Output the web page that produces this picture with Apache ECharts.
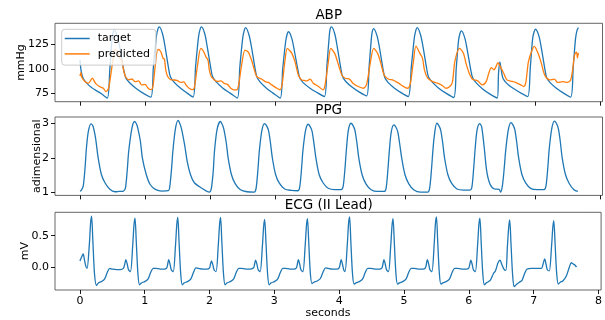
<!DOCTYPE html>
<html><head><meta charset="utf-8">
<script src="https://cdn.jsdelivr.net/npm/echarts@6/dist/echarts.min.js"></script>
<style>html,body{margin:0;padding:0;background:#fff}#c{width:605px;height:320px}</style>
</head><body><div id="c"></div>
<script>
const xTicks=[0,1,2,3,4,5,6,7,8];
const abpTicks=[75,100,125];
const ppgTicks=[1,2,3];
const ecgTicks=[0,0.5];
const ecgTickLabels=['0.0','0.5'];
const titles=['ABP','PPG','ECG (II Lead)'];
const yNames=['mmHg','adimensional','mV'];
const seriesNames=['target','predicted'];

const abpTarget=[[0,109],[0.02,97],[0.05,90],[0.13,83.5],[0.23,78.4],[0.33,74.3],[0.42,69.9],
[0.46,100],[0.49,128],[0.51,137],[0.53,140],[0.57,134],[0.62,120],[0.67,100],[0.71,90],[0.76,86],[0.86,80],[0.97,75],[1.09,70.9],
[1.13,102],[1.175,133],[1.2,141],[1.22,143],[1.27,136],[1.31,122.6],[1.36,102],[1.39,92],[1.44,86.8],[1.54,80.5],[1.64,75.5],[1.74,71],
[1.78,103],[1.825,133],[1.85,141],[1.87,143],[1.92,136],[1.96,122],[2.01,102],[2.04,92],[2.09,87],[2.2,80],[2.31,75],[2.42,69.9],
[2.46,102],[2.505,132],[2.53,140],[2.55,142.3],[2.6,135],[2.64,122],[2.69,102],[2.72,92],[2.77,86.5],[2.87,80],[2.97,75],[3.08,69.9],
[3.12,100],[3.165,128],[3.19,136],[3.21,138],[3.26,131],[3.3,118],[3.35,100],[3.38,91],[3.43,86],[3.54,80],[3.65,75.5],[3.76,71.5],
[3.8,103],[3.835,133],[3.85,141],[3.87,143],[3.92,136],[3.96,122],[4.01,102],[4.04,92],[4.09,87],[4.19,81],[4.3,76],[4.41,72.2],
[4.45,103],[4.485,132],[4.5,139],[4.52,141.3],[4.57,134],[4.61,121],[4.66,101],[4.69,91],[4.74,86],[4.84,80],[4.94,75.5],[5.05,71.5],
[5.1,103],[5.145,132],[5.17,140],[5.19,142.3],[5.24,135],[5.28,122],[5.33,102],[5.36,92],[5.41,87],[5.52,80],[5.63,75],[5.75,70.5],
[5.79,101],[5.825,129],[5.85,137],[5.87,139],[5.92,132],[5.96,119],[6.01,100],[6.04,91],[6.09,86],[6.2,79],[6.31,74],[6.42,70],
[6.44,95],[6.46,107],[6.48,100],[6.51,90],[6.6,83],[6.7,78.5],[6.8,74.5],[6.89,71.5],
[6.93,102],[6.965,131],[6.99,138.5],[7.01,140.6],[7.06,134],[7.1,121],[7.15,101],[7.18,91],[7.23,86],[7.33,80],[7.44,75],[7.55,70.9],
[7.59,102],[7.625,131],[7.65,140],[7.67,142.3]];

const abpPred=[[0,92.6],[0.015,96],[0.03,91],[0.08,86.8],[0.13,85.2],[0.19,90.3],[0.24,85],[0.3,81.8],[0.36,80],[0.4,76.6],[0.44,80],[0.5,105.6],[0.54,120],
[0.58,117],[0.61,111],[0.64,109],[0.67,99],[0.7,92],[0.75,88.6],[0.8,89.5],[0.85,86.8],[0.9,87.5],[0.95,83.5],[1.0,84],[1.05,80],[1.09,78.5],[1.12,81],[1.16,104],[1.2,120],
[1.24,118],[1.28,110.7],[1.3,110],[1.32,98.8],[1.35,92],[1.4,88.6],[1.45,88.5],[1.5,87.9],[1.55,86],[1.6,86.5],[1.63,83.5],[1.68,80],[1.73,78.5],[1.76,81],[1.81,104],[1.86,120.9],
[1.9,118],[1.94,112],[1.97,109],[1.99,99],[2.02,92],[2.07,88.5],[2.12,87],[2.17,87.5],[2.22,85],[2.27,84],[2.32,80],[2.37,78.4],[2.41,78.4],[2.44,83],[2.49,105],[2.54,119.2],
[2.59,117],[2.64,109],[2.67,102],[2.72,92],[2.8,89.3],[2.85,86.8],[2.9,86],[2.95,83.5],[3.03,80],[3.08,78.4],[3.11,84],[3.15,106],[3.19,120.9],
[3.23,118.5],[3.26,115.8],[3.31,107],[3.36,93.7],[3.41,88.6],[3.45,88],[3.49,87.6],[3.54,89.3],[3.59,85.2],[3.67,81.8],[3.74,78.4],[3.77,83],[3.82,106],[3.86,120.9],
[3.92,115.8],[3.97,105.6],[4.03,93.7],[4.08,90.3],[4.15,89.3],[4.2,85.2],[4.28,81.8],[4.36,80],[4.41,84],[4.47,107],[4.52,120.9],
[4.58,115.8],[4.63,105.6],[4.68,93.7],[4.75,89.3],[4.81,88.6],[4.86,86.8],[4.91,85],[4.96,82.6],[5.04,80],[5.08,84],[5.13,107],[5.17,123.3],
[5.23,115.8],[5.27,111],[5.3,98.8],[5.35,90.3],[5.43,86.8],[5.5,85.2],[5.58,82.6],[5.63,80],[5.69,81.8],[5.73,86],[5.77,108],[5.84,120.9],
[5.9,116],[5.94,105.6],[5.99,95.4],[6.04,89.3],[6.12,87.6],[6.19,83.5],[6.25,86.8],[6.29,95.4],[6.33,101.1],[6.37,99],[6.4,102],[6.43,106.3],[6.47,102],[6.52,95.4],[6.57,88.6],[6.65,87],[6.7,86],[6.78,83.5],[6.83,81.8],[6.86,86],[6.9,107.2],[6.95,118],
[6.99,123],[7.05,115.8],[7.1,105.6],[7.15,93.7],[7.23,88.6],[7.3,89.3],[7.35,86],[7.43,86.8],[7.5,86],[7.55,88.6],[7.58,98.8],[7.61,114],[7.64,117.2],[7.655,111],[7.665,116],[7.67,114]];

const ppg=[[0,1.04],[0.02,1.06],[0.05,1.18],[0.08,1.75],[0.1,2.29],[0.13,2.77],[0.17,2.98],[0.2,2.92],[0.24,2.57],[0.28,2.0],[0.33,1.52],[0.385,1.28],[0.46,1.09],[0.54,1.02],[0.6,1.03],[0.67,1.04],
[0.7,1.13],[0.73,1.7],[0.75,2.19],[0.8,2.86],[0.84,3.05],[0.87,2.98],[0.89,2.86],[0.93,2.48],[0.96,2.0],[1.02,1.52],[1.08,1.23],[1.16,1.09],[1.26,1.04],[1.36,1.05],
[1.38,1.14],[1.41,1.7],[1.43,2.2],[1.47,2.85],[1.51,3.08],[1.53,3.02],[1.56,2.86],[1.61,2.38],[1.65,1.9],[1.7,1.52],[1.76,1.28],[1.87,1.13],[1.99,1.01],
[2.02,1.1],[2.05,1.6],[2.07,2.19],[2.11,2.82],[2.16,3.05],[2.18,3.0],[2.21,2.86],[2.25,2.45],[2.28,2.0],[2.33,1.52],[2.39,1.25],[2.47,1.08],[2.57,1.02],[2.68,1.01],
[2.71,1.12],[2.74,1.7],[2.76,2.2],[2.8,2.8],[2.84,2.99],[2.87,2.93],[2.9,2.8],[2.93,2.45],[2.96,2.0],[3.01,1.52],[3.07,1.26],[3.15,1.1],[3.25,1.06],[3.35,1.05],
[3.38,1.14],[3.41,1.7],[3.43,2.2],[3.47,2.78],[3.51,2.97],[3.54,2.91],[3.57,2.78],[3.6,2.42],[3.63,2.0],[3.68,1.52],[3.74,1.28],[3.82,1.12],[3.92,1.08],[4.02,1.08],
[4.05,1.18],[4.08,1.75],[4.1,2.25],[4.13,2.8],[4.17,3.0],[4.2,2.94],[4.23,2.8],[4.26,2.45],[4.29,2.0],[4.34,1.52],[4.4,1.25],[4.48,1.08],[4.58,1.03],[4.68,1.03],
[4.71,1.12],[4.74,1.7],[4.76,2.2],[4.79,2.75],[4.83,2.95],[4.86,2.89],[4.89,2.75],[4.92,2.4],[4.95,2.0],[5.0,1.52],[5.06,1.25],[5.14,1.07],[5.24,1.01],[5.35,1.01],
[5.38,1.12],[5.41,1.7],[5.43,2.2],[5.45,2.6],[5.49,3.0],[5.52,2.94],[5.55,2.8],[5.58,2.45],[5.61,2.0],[5.66,1.52],[5.72,1.26],[5.8,1.1],[5.9,1.07],[6.0,1.07],
[6.03,1.15],[6.06,1.75],[6.08,2.25],[6.11,2.8],[6.15,2.99],[6.18,2.9],[6.22,2.3],[6.26,1.6],[6.31,1.24],[6.38,1.1],[6.45,1.09],[6.47,1.01],
[6.5,1.2],[6.53,1.75],[6.55,2.2],[6.59,2.8],[6.63,3.02],[6.66,2.96],[6.69,2.82],[6.72,2.45],[6.75,2.0],[6.8,1.52],[6.86,1.27],[6.94,1.11],[7.04,1.08],[7.14,1.08],
[7.17,1.18],[7.2,1.75],[7.22,2.25],[7.26,2.85],[7.3,3.06],[7.33,3.0],[7.36,2.85],[7.39,2.48],[7.42,2.0],[7.47,1.52],[7.53,1.25],[7.6,1.08],[7.66,1.03]];

const ecg=[[0,0.1],[0.03,0.17],[0.05,0.21],[0.07,0.12],[0.09,0.02],[0.11,-0.02],[0.145,0.35],[0.165,0.7],[0.18,0.81],[0.2,0.42],[0.225,-0.1],[0.255,-0.29],[0.285,-0.25],[0.33,-0.23],[0.38,-0.19],[0.42,-0.09],[0.46,-0.02],[0.5,-0.03],[0.56,-0.04],[0.62,-0.04],[0.67,-0.02],[0.69,0.04],[0.71,0.12],[0.73,0.05],[0.75,-0.04],[0.78,-0.07],
[0.815,0.35],[0.835,0.68],[0.85,0.78],[0.87,0.4],[0.895,-0.1],[0.92,-0.28],[0.95,-0.25],[1.0,-0.23],[1.05,-0.19],[1.09,-0.09],[1.13,-0.02],[1.17,-0.02],[1.24,-0.03],[1.3,-0.03],[1.34,-0.01],[1.355,0.05],[1.37,0.12],[1.39,0.05],[1.41,-0.04],[1.44,-0.07],
[1.475,0.35],[1.495,0.68],[1.51,0.79],[1.53,0.4],[1.555,-0.1],[1.58,-0.28],[1.61,-0.25],[1.66,-0.23],[1.71,-0.19],[1.75,-0.09],[1.79,-0.01],[1.83,-0.02],[1.9,-0.03],[1.96,-0.03],[2.0,-0.01],[2.015,0.05],[2.03,0.1],[2.05,0.04],[2.07,-0.04],[2.1,-0.07],
[2.135,0.35],[2.155,0.68],[2.17,0.79],[2.19,0.4],[2.215,-0.1],[2.24,-0.28],[2.27,-0.25],[2.32,-0.23],[2.37,-0.19],[2.41,-0.09],[2.45,-0.02],[2.49,-0.02],[2.56,-0.03],[2.63,-0.03],[2.68,-0.01],[2.695,0.05],[2.71,0.11],[2.73,0.05],[2.75,-0.04],[2.78,-0.07],
[2.815,0.33],[2.835,0.65],[2.85,0.76],[2.87,0.4],[2.895,-0.1],[2.92,-0.28],[2.95,-0.25],[3.0,-0.23],[3.05,-0.19],[3.09,-0.09],[3.13,-0.02],[3.17,-0.02],[3.24,-0.03],[3.3,-0.03],[3.34,-0.01],[3.355,0.05],[3.37,0.12],[3.39,0.05],[3.41,-0.04],[3.44,-0.07],
[3.475,0.34],[3.495,0.66],[3.51,0.77],[3.53,0.4],[3.555,-0.1],[3.58,-0.26],[3.61,-0.24],[3.66,-0.22],[3.71,-0.18],[3.75,-0.08],[3.79,-0.01],[3.83,-0.02],[3.9,-0.03],[3.96,-0.03],[4.0,-0.01],[4.015,0.05],[4.03,0.12],[4.05,0.05],[4.07,-0.04],[4.09,-0.07],
[4.125,0.36],[4.145,0.7],[4.16,0.8],[4.18,0.4],[4.205,-0.1],[4.23,-0.27],[4.26,-0.25],[4.31,-0.23],[4.36,-0.19],[4.4,-0.09],[4.44,-0.02],[4.48,-0.02],[4.55,-0.03],[4.62,-0.03],[4.66,-0.01],[4.675,0.05],[4.69,0.12],[4.71,0.05],[4.73,-0.04],[4.76,-0.07],
[4.795,0.34],[4.815,0.66],[4.83,0.77],[4.85,0.4],[4.875,-0.1],[4.9,-0.27],[4.93,-0.25],[4.98,-0.23],[5.03,-0.19],[5.07,-0.09],[5.11,-0.02],[5.15,-0.02],[5.22,-0.03],[5.29,-0.03],[5.33,-0.01],[5.345,0.05],[5.36,0.12],[5.38,0.05],[5.4,-0.04],[5.43,-0.07],
[5.465,0.36],[5.485,0.7],[5.5,0.8],[5.52,0.4],[5.545,-0.1],[5.57,-0.27],[5.6,-0.25],[5.65,-0.23],[5.7,-0.19],[5.74,-0.09],[5.78,-0.02],[5.82,-0.02],[5.89,-0.03],[5.96,-0.03],[6.0,-0.01],[6.015,0.05],[6.03,0.11],[6.05,0.05],[6.07,-0.04],[6.1,-0.07],
[6.135,0.35],[6.155,0.68],[6.17,0.78],[6.19,0.4],[6.215,-0.1],[6.24,-0.28],[6.27,-0.25],[6.33,-0.21],[6.38,-0.1],[6.41,-0.06],[6.45,0.07],[6.48,0.11],[6.51,0.04],[6.54,-0.03],[6.57,-0.05],
[6.595,0.33],[6.615,0.64],[6.63,0.75],[6.65,0.38],[6.675,-0.12],[6.7,-0.31],[6.73,-0.28],[6.78,-0.24],[6.82,-0.21],[6.86,-0.1],[6.9,-0.03],[6.97,-0.02],[7.05,-0.02],[7.12,-0.02],[7.145,0.05],[7.17,0.13],[7.19,0.05],[7.21,-0.04],[7.24,-0.06],
[7.275,0.32],[7.295,0.63],[7.31,0.74],[7.33,0.38],[7.355,-0.1],[7.38,-0.27],[7.41,-0.24],[7.45,-0.22],[7.5,-0.15],[7.55,0.0],[7.58,0.07],[7.61,0.05],[7.64,0.03],[7.66,0.0]];

const FONT='DejaVu Sans';
const BLUE='#1f77b4', ORANGE='#ff7f0e';
const gridTops=[23.3,117,212.3];
const gridH=78.4;
const yRanges=[[66.2,146.7],[0.915,3.18],[-0.363,0.872]];
const yTickSets=[abpTicks,ppgTicks,ecgTicks];
const yGaps=[28,12,24];

const chart=echarts.init(document.getElementById('c'),null,{renderer:'canvas'});
const grids=gridTops.map(t=>({left:55,top:t,width:547.5,height:gridH,show:true,borderColor:'#555',borderWidth:0.9,backgroundColor:'transparent'}));
const xAxes=[0,1,2].map(i=>({type:'value',gridIndex:i,position:'bottom',min:-0.384,max:8.04,splitNumber:8,
  axisLine:{show:false,onZero:false},splitLine:{show:false},
  axisTick:{show:true,inside:false,length:4,lineStyle:{color:'#000',width:0.9},customValues:xTicks},
  axisLabel:{show:i===2,customValues:xTicks,margin:6,color:'#000',fontFamily:FONT,fontSize:11,formatter:v=>String(v)},
  name:i===2?'seconds':'',nameLocation:'middle',nameGap:18,nameMoveOverlap:false,nameTextStyle:{color:'#000',fontFamily:FONT,fontSize:11}}));
const yAxes=[0,1,2].map(i=>({type:'value',gridIndex:i,position:'left',min:yRanges[i][0],max:yRanges[i][1],
  axisLine:{show:false,onZero:false},splitLine:{show:false},
  axisTick:{show:true,inside:false,length:4,lineStyle:{color:'#000',width:0.9},customValues:yTickSets[i]},
  axisLabel:{show:true,customValues:yTickSets[i],margin:6,color:'#000',fontFamily:FONT,fontSize:11,
    formatter:v=>i===2?ecgTickLabels[ecgTicks.indexOf(v)]:String(v)},
  name:yNames[i],nameLocation:'middle',nameRotate:90,nameGap:yGaps[i],nameMoveOverlap:false,nameTextStyle:{color:'#000',fontFamily:FONT,fontSize:11}}));
const lineCommon={type:'line',symbol:'none',smooth:0.3,animation:false};
const series=[
  Object.assign({},lineCommon,{name:seriesNames[0],xAxisIndex:0,yAxisIndex:0,data:abpTarget,lineStyle:{color:BLUE,width:1.3},itemStyle:{color:BLUE}}),
  Object.assign({},lineCommon,{name:seriesNames[1],xAxisIndex:0,yAxisIndex:0,data:abpPred,lineStyle:{color:ORANGE,width:1.3},itemStyle:{color:ORANGE}}),
  Object.assign({},lineCommon,{name:'ppg',xAxisIndex:1,yAxisIndex:1,data:ppg,lineStyle:{color:BLUE,width:1.3},itemStyle:{color:BLUE}}),
  Object.assign({},lineCommon,{name:'ecg',xAxisIndex:2,yAxisIndex:2,data:ecg,lineStyle:{color:BLUE,width:1.3},itemStyle:{color:BLUE}})
];
const titleY=[15,110.5,205.5];
chart.setOption({
  animation:false,
  grid:grids,xAxis:xAxes,yAxis:yAxes,series:series,
  legend:{data:seriesNames.map(n=>({name:n,icon:'rect'})),left:61.7,top:29.3,orient:'vertical',itemWidth:25,itemHeight:1.5,itemGap:3,
    padding:[3,6,5,3],backgroundColor:'rgba(255,255,255,0.8)',borderColor:'#ccc',borderWidth:1,borderRadius:3,
    textStyle:{color:'#000',fontFamily:FONT,fontSize:11,lineHeight:12.4,padding:[0,0,0,3]},selectedMode:false},
  graphic:titles.map((t,i)=>({type:'text',x:328.7,y:titleY[i],style:{text:t,fill:'#000',font:'13.5px "DejaVu Sans"',align:'center',verticalAlign:'middle'}}))
});
</script></body></html>
